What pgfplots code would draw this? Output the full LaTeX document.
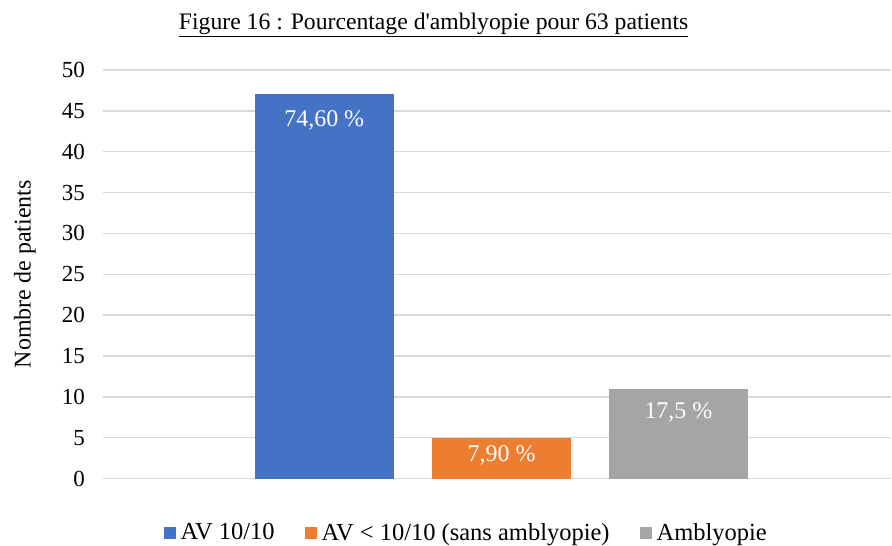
\documentclass[border=0pt]{standalone}
\usepackage{pgfplots}
\pgfplotsset{compat=1.18}
\usepackage{fontspec}
\setmainfont{Liberation Serif}
\definecolor{cblue}{HTML}{4472C4}
\definecolor{corange}{HTML}{ED7D31}
\definecolor{cgray}{HTML}{A5A5A5}
\definecolor{cgrid}{HTML}{D9D9D9}
\begin{document}
\begin{tikzpicture}[x=1pt,y=1pt]
\begin{axis}[
  at={(0,0)}, anchor=south west,
  scale only axis, width=789pt, height=409pt,
  xmin=0, xmax=789, ymin=0, ymax=50,
  ytick={0,5,...,50}, xtick=\empty,
  ymajorgrids, grid style={cgrid, line width=1.4pt},
  axis line style={draw=none},
  major tick length=0pt,
  /pgf/number format/assume math mode=true,
  tick label style={font=\fontsize{23}{27}\selectfont},
  yticklabel style={anchor=east, xshift=-14.5pt},
  ylabel={Nombre de patients},
  ylabel style={at={(axis description cs:-0.0989,0.5)}, anchor=center, font=\fontsize{24}{28}\selectfont},
  title={\underline{Figure 16 : Pourcentage d\textquotesingle amblyopie pour 63 patients}},
  title style={at={(axis description cs:0.4195,1.095)}, anchor=center, font=\fontsize{23.7}{28}\selectfont},
  ybar, bar width=139.5, bar shift=0pt,
  legend columns=3,
  legend style={at={(axis description cs:0.4607,-0.132)}, anchor=center, draw=none, fill=none,
    font=\fontsize{24.5}{28}\selectfont,
    nodes={inner sep=1.5pt},
    /tikz/every even column/.append style={column sep=29pt}},
  legend image code/.code={\fill[#1, draw=none] (0pt,-6pt) rectangle (12pt,6pt); \path (15pt,0pt);},
  nodes near coords style={anchor=center, text=white, font=\fontsize{24}{28}\selectfont},
]
\addplot[fill=cblue, draw=none, nodes near coords={74,60 \%}, nodes near coords style={yshift=-26pt}] coordinates {(221.5,47)};
\addplot[fill=corange, draw=none, nodes near coords={7,90 \%}, nodes near coords style={yshift=-18pt}] coordinates {(399,5)};
\addplot[fill=cgray, draw=none, nodes near coords={17,5 \%}, nodes near coords style={yshift=-24pt}] coordinates {(576,11)};
\legend{AV 10/10, AV < 10/10 (sans amblyopie), Amblyopie}
\end{axis}
\useasboundingbox (-103,-67) rectangle (789,479);
\end{tikzpicture}
\end{document}
